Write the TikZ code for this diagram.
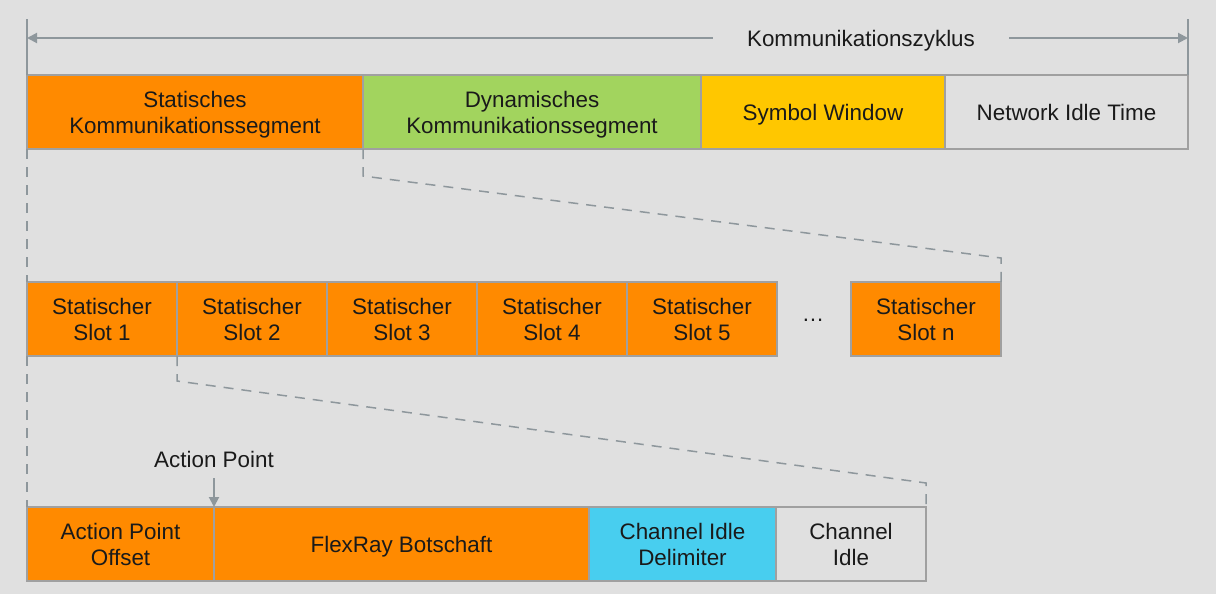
\documentclass[tikz,border=0pt]{standalone}
\usepackage{fontspec}
\setmainfont{Liberation Sans}
\usetikzlibrary{positioning,arrows.meta}
\definecolor{bgray}{HTML}{E0E0E0}
\definecolor{edgegray}{HTML}{A0A0A0}
\definecolor{arrgray}{HTML}{8E979C}
\definecolor{segorange}{HTML}{FF8A00}
\definecolor{seggreen}{HTML}{A2D45E}
\definecolor{segyellow}{HTML}{FFC700}
\definecolor{segblue}{HTML}{48CEEF}
\definecolor{txt}{HTML}{1A1A1A}
\begin{document}
\begin{tikzpicture}[x=0.5pt,y=-0.5pt,
    seg/.style={draw=edgegray,line width=1pt,minimum height=37pt,inner sep=0pt,outer sep=0pt,
        align=center,text=txt,font=\fontsize{11.2}{13}\selectfont,text depth=0pt},
    zoomline/.style={draw=arrgray,line width=0.75pt,dash pattern=on 5pt off 4pt},
    tickline/.style={draw=arrgray,line width=0.75pt},
    cycarrow/.style={draw=arrgray,line width=1pt,-{Triangle[length=5pt,width=5pt]}},
    lbl/.style={text=txt,font=\fontsize{11.2}{13}\selectfont,inner sep=0pt}]
    \fill[bgray] (0,0) rectangle (1216,594);
    % Kommunikationszyklus
    \node[seg,fill=segorange,minimum width=168pt,anchor=north west] (statseg) at (27,75) {Statisches\\Kommunikationssegment};
    \node[seg,fill=seggreen,minimum width=169pt,right=0pt of statseg] (dynseg) {Dynamisches\\Kommunikationssegment};
    \node[seg,fill=segyellow,minimum width=122pt,right=0pt of dynseg] (symwin) {Symbol Window};
    \node[seg,fill=bgray,minimum width=121.5pt,right=0pt of symwin] (nit) {Network Idle Time};
    \draw[tickline] (statseg.north west) -- ++(0,-56) coordinate (tickl);
    \draw[tickline] (nit.north east) -- ++(0,-56) coordinate (tickr);
    \node[lbl] (cyclabel) at (861,41) {Kommunikationszyklus};
    \draw[cycarrow] ([xshift=-17pt,yshift=1.5pt]cyclabel.west) -- ([yshift=1.5pt]tickl |- cyclabel);
    \draw[cycarrow] ([xshift=17pt,yshift=1.5pt]cyclabel.east) -- ([yshift=1.5pt]tickr |- cyclabel);
    % statische Slots
    \node[seg,fill=segorange,minimum width=75pt,anchor=north west] (slot1) at (27,282) {Statischer\\Slot 1};
    \foreach \i [remember=\i as \j (initially 1)] in {2,...,5}
        \node[seg,fill=segorange,minimum width=75pt,right=0pt of slot\j] (slot\i) {Statischer\\Slot \i};
    \node[seg,fill=segorange,minimum width=75pt,anchor=north west] (slotn) at (851,282) {Statischer\\Slot n};
    \node[lbl] (dots) at (813,320) {\dots};
    \draw[zoomline] (statseg.south west) -- (slot1.north west);
    \draw[zoomline] (dynseg.south west) -- ++(0,27) -- ([yshift=12pt]slotn.north east) -- (slotn.north east);
    % Slot
    \node[seg,fill=segorange,minimum width=93.5pt,anchor=north west] (apoff) at (27,507) {Action Point\\Offset};
    \node[seg,fill=segorange,minimum width=187.5pt,right=0pt of apoff] (msg) {FlexRay Botschaft};
    \node[seg,fill=segblue,minimum width=93.5pt,right=0pt of msg] (cid) {Channel Idle\\Delimiter};
    \node[seg,fill=bgray,minimum width=75pt,right=0pt of cid] (cidle) {Channel\\Idle};
    \draw[zoomline] (slot1.south west) -- (apoff.north west);
    \draw[zoomline] (slot2.south west) -- ++(0,25) -- ([yshift=12pt]cidle.north east) -- (cidle.north east);
    \node[lbl] (aplabel) at (214,459) {Action Point};
    \draw[cycarrow] ([yshift=14.5pt]apoff.north east) -- (apoff.north east);
\end{tikzpicture}
\end{document}
